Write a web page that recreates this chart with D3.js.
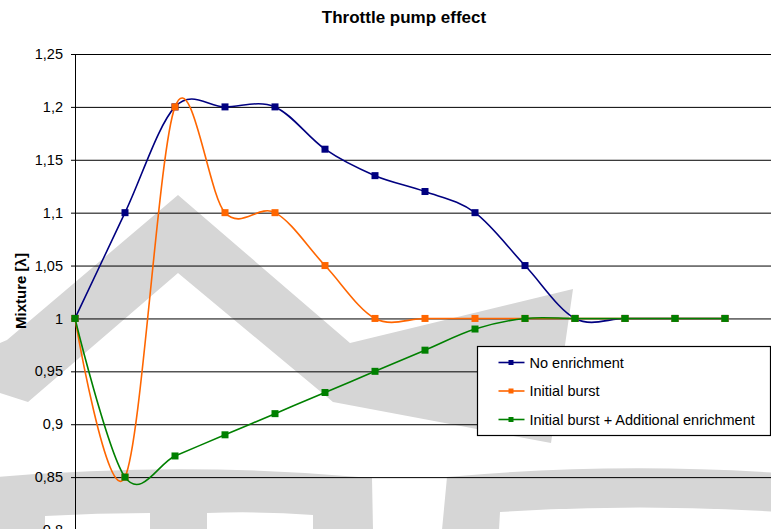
<!DOCTYPE html>
<html>
<head>
<meta charset="utf-8">
<script src="https://cdn.jsdelivr.net/npm/d3@7/dist/d3.min.js"></script>
<style>
  html, body { margin: 0; padding: 0; background: #fff; }
  svg { display: block; font-family: "Liberation Sans", Arial, sans-serif; }
</style>
</head>
<body>
<svg id="root" width="771" height="529"></svg>
<script>
"use strict";

// chart values
const steps = [0, 1, 2, 3, 4, 5, 6, 7, 8, 9, 10, 11, 12, 13];
const noEnrichment = [1, 1.1, 1.2, 1.2, 1.2, 1.16, 1.135, 1.12, 1.1, 1.05, 1, 1, 1, 1];
const initialBurst = [1, 0.85, 1.2, 1.1, 1.1, 1.05, 1, 1, 1, 1, 1, 1, 1, 1];
const burstPlusEnrichment = [1, 0.85, 0.87, 0.89, 0.91, 0.93, 0.95, 0.97, 0.99, 1, 1, 1, 1, 1];
const seriesNames = ["No enrichment", "Initial burst", "Initial burst + Additional enrichment"];
const seriesColors = ["#000080", "#ff6600", "#008000"];
const yTicks = [0.8, 0.85, 0.9, 0.95, 1, 1.05, 1.1, 1.15, 1.2, 1.25];

const svg = d3.select("#root");
const margin = { left: 75, top: 54 };

const x = d3.scaleLinear().domain([0, 14]).range([75, 775]);
const y = d3.scaleLinear().domain([0.8, 1.25]).range([530, 54]);

const fmt = d3.formatLocale({
  decimal: ",",
  thousands: ".",
  grouping: [3],
  currency: ["", ""],
}).format("~g");

// background watermark
const mark = svg.append("g").attr("fill", "#d6d6d6");
mark.append("path").attr("d",
  "M0,343 L7,340 L178,195 L350,343 L573,289 L551,443 L333,402 L178,273 L28,402 L0,393 Z");
mark.append("path").attr("d",
  "M-2,477 Q186,461 372,478 L373,530 L313,530 L313,515 Q260,511 207,513 L207,530 " +
  "L150,530 L150,513 Q97,513 45,516 L45,530 L-2,530 Z");
mark.append("path").attr("d",
  "M447,477 Q610,462 780,473 L780,512 Q640,503 500,512 L499,530 L442,530 Z");

// gridlines
svg.append("g")
  .attr("transform", `translate(${margin.left},0)`)
  .call(d3.axisLeft(y).tickValues(yTicks).tickSize(-(771 - margin.left)).tickFormat(""))
  .call((g) => g.select(".domain").remove())
  .call((g) => g.selectAll("line").attr("stroke", "#000").attr("stroke-width", 1));

// y axis
svg.append("g")
  .attr("transform", `translate(${margin.left},0)`)
  .call(d3.axisLeft(y).tickValues(yTicks).tickSize(4).tickPadding(8).tickFormat(fmt))
  .call((g) => g.select(".domain").attr("stroke", "#000").attr("d", "M0.5,54V530"))
  .call((g) => g.selectAll("line").attr("stroke", "#000"))
  .call((g) =>
    g.selectAll("text")
      .attr("fill", "#000")
      .style("font-size", "14.5px")
      .style("font-family", "'Liberation Sans', Arial, sans-serif")
  );

// title
svg.append("text")
  .attr("x", 404)
  .attr("y", 23)
  .attr("text-anchor", "middle")
  .style("font-size", "17px")
  .style("font-weight", "bold")
  .text("Throttle pump effect");

// y label
svg.append("text")
  .attr("transform", "translate(26,291) rotate(-90)")
  .attr("text-anchor", "middle")
  .style("font-size", "15px")
  .style("font-weight", "bold")
  .text("Mixture [λ]");

// series
const allSeries = [noEnrichment, initialBurst, burstPlusEnrichment];
const line = d3
  .line()
  .x((d, i) => x(steps[i]))
  .y((d) => y(d))
  .curve(d3.curveCardinal.tension(0));

allSeries.forEach((values, s) => {
  const g = svg.append("g");
  g.append("path")
    .datum(values)
    .attr("fill", "none")
    .attr("stroke", seriesColors[s])
    .attr("stroke-width", 1.6)
    .attr("d", line);
  g.selectAll("rect")
    .data(values)
    .join("rect")
    .attr("x", (d, i) => x(steps[i]) - 3.5)
    .attr("y", (d) => y(d) - 3.5)
    .attr("width", 7)
    .attr("height", 7)
    .attr("fill", seriesColors[s]);
});

// legend
const legend = svg.append("g").attr("transform", "translate(477.5,346.5)");
legend.append("rect")
  .attr("width", 293)
  .attr("height", 89)
  .attr("fill", "#fff")
  .attr("stroke", "#000")
  .attr("stroke-width", 1.2);

const legendItems = legend
  .selectAll("g")
  .data(seriesNames)
  .join("g")
  .attr("transform", (d, i) => `translate(0, ${16 + i * 28.5})`);

legendItems.append("line")
  .attr("x1", 21)
  .attr("x2", 47)
  .attr("stroke", (d, i) => seriesColors[i])
  .attr("stroke-width", 1.6);
legendItems.append("rect")
  .attr("x", 31)
  .attr("y", -2.5)
  .attr("width", 5)
  .attr("height", 5)
  .attr("fill", (d, i) => seriesColors[i]);
legendItems.append("text")
  .attr("x", 52)
  .attr("y", 5)
  .style("font-size", "14.5px")
  .text((d) => d);
</script>
</body>
</html>
